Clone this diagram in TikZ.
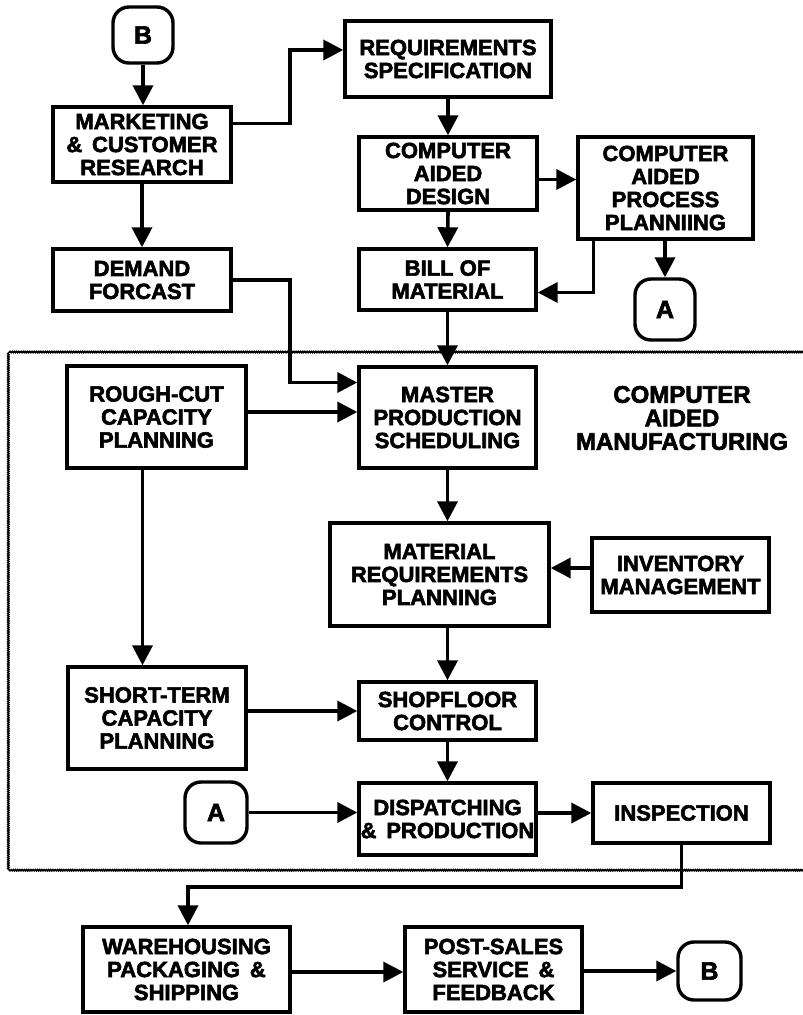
\documentclass[tikz,border=0pt]{standalone}
\usepackage{fontspec}
\setmainfont{Liberation Sans}[BoldFeatures={FakeBold=2.6}]
\usetikzlibrary{arrows.meta,decorations.pathmorphing}
\begin{document}
\begin{tikzpicture}[x=1pt,y=-1pt,
  box/.style={draw,line width=3.4pt,inner sep=0pt,align=center,font=\bfseries\fontsize{22}{23}\selectfont},
  circ/.style={draw,line width=3.4pt,rounded corners=16pt,inner sep=0pt,font=\bfseries\fontsize{25}{25}\selectfont},
  arr/.style={line width=3.6pt,-{Triangle[length=20pt,width=20pt]}},
  frame/.style={line width=1.6pt,decorate,decoration={snake,amplitude=0.6pt,segment length=2.2pt}},
  camtext/.style={align=center,font=\bfseries\fontsize{24}{23.5}\selectfont}
]
\useasboundingbox (0,0) rectangle (803,1015);
\fill[white] (0,0) rectangle (803,1015);

% frame of CAM area
\draw[frame] (806,352) -- (10,352) -- (10,869) -- (806,869);

% nodes
\node[circ,minimum width=60pt,minimum height=56pt] (B1) at (143,35) {B};
\node[box,minimum width=178pt,minimum height=75pt] (mkt) at (142,144.5) {MARKETING\\\& \,CUSTOMER\\RESEARCH};
\node[box,minimum width=206pt,minimum height=76pt] (req) at (448,59) {REQUIREMENTS\\SPECIFICATION};
\node[box,minimum width=178pt,minimum height=73pt] (cad) at (448,173.5) {COMPUTER\\AIDED\\DESIGN};
\node[box,minimum width=175pt,minimum height=102pt] (capp) at (665.5,188) {COMPUTER\\AIDED\\PROCESS\\PLANNIING};
\node[box,minimum width=177pt,minimum height=61pt] (bom) at (447.5,279.5) {BILL OF\\MATERIAL};
\node[circ,minimum width=60pt,minimum height=61pt] (A1) at (665,309.5) {A};
\node[box,minimum width=178pt,minimum height=62pt] (dem) at (142,280) {DEMAND\\FORCAST};
\node[box,minimum width=179pt,minimum height=102pt] (rough) at (156.5,417) {ROUGH-CUT\\CAPACITY\\PLANNING};
\node[box,minimum width=177pt,minimum height=101pt] (mps) at (447.5,417.5) {MASTER\\PRODUCTION\\SCHEDULING};
\node[camtext] (cam) at (682,418) {COMPUTER\\AIDED\\MANUFACTURING};
\node[box,minimum width=219pt,minimum height=103pt] (mrp) at (439.5,574.5) {MATERIAL\\REQUIREMENTS\\PLANNING};
\node[box,minimum width=177pt,minimum height=74pt] (inv) at (680.5,575) {INVENTORY\\MANAGEMENT};
\node[box,minimum width=178pt,minimum height=102pt] (short) at (157,718) {SHORT-TERM\\CAPACITY\\PLANNING};
\node[box,minimum width=177pt,minimum height=58pt] (shop) at (447.5,711) {SHOPFLOOR\\CONTROL};
\node[box,minimum width=177pt,minimum height=72pt] (disp) at (447.5,819) {DISPATCHING\\\& \,PRODUCTION};
\node[circ,minimum width=62pt,minimum height=61pt] (A2) at (216,812.5) {A};
\node[box,minimum width=177pt,minimum height=60pt] (insp) at (681.5,813) {INSPECTION};
\node[box,minimum width=207pt,minimum height=85pt] (ware) at (186.5,969.5) {WAREHOUSING\\PACKAGING \,\&\\SHIPPING};
\node[box,minimum width=177pt,minimum height=85pt] (post) at (493.5,969.5) {POST-SALES\\SERVICE \,\&\\FEEDBACK};
\node[circ,minimum width=63pt,minimum height=58pt] (B2) at (709.5,971) {B};

% connectors
\draw[arr] (B1.south) -- (B1.south |- mkt.north);
\draw[arr] ([yshift=21pt]mkt.east) -- ++(57,0) |- ([yshift=9pt]req.west);
\draw[arr] (mkt.south) -- (dem.north);
\draw[arr] (req.south) -- (cad.north);
\draw[arr] ([yshift=-6pt]cad.east) -- ([yshift=-6pt]cad.east -| capp.west);
\draw[arr] (cad.south) -- (bom.north);
\draw[arr] ([xshift=-72pt]capp.south) |- ([yshift=-13pt]bom.east);
\draw[arr] (capp.south -| A1.north) -- (A1.north);
\draw[arr] (dem.east) -- ++(57,0) |- ([yshift=35pt]mps.west);
\draw[arr] ([yshift=5pt]rough.east) -- ([yshift=5pt]rough.east -| mps.west);
\draw[arr] (bom.south) -- (mps.north);
\draw[arr] (mps.south) -- (mps.south |- mrp.north);
\draw[arr] ([yshift=7pt]inv.west) -- ([yshift=7pt]inv.west -| mrp.east);
\draw[arr] ([xshift=-14pt]rough.south) -- ([xshift=-14pt]rough.south |- short.north);
\draw[arr] (short.east |- shop.west) -- (shop.west);
\draw[arr] (shop.north |- mrp.south) -- (shop.north);
\draw[arr] (shop.south) -- (disp.north);
\draw[arr] (A2.east) -- (A2.east -| disp.west);
\draw[arr] (disp.east |- insp.west) -- (insp.west);
\draw[arr] (insp.south) -- ++(0,42) -| ([xshift=1.5pt]ware.north);
\draw[arr] (ware.east |- 0,972) -- (post.west |- 0,972);
\draw[arr] (post.east |- B2.west) -- (B2.west);
\end{tikzpicture}
\end{document}
